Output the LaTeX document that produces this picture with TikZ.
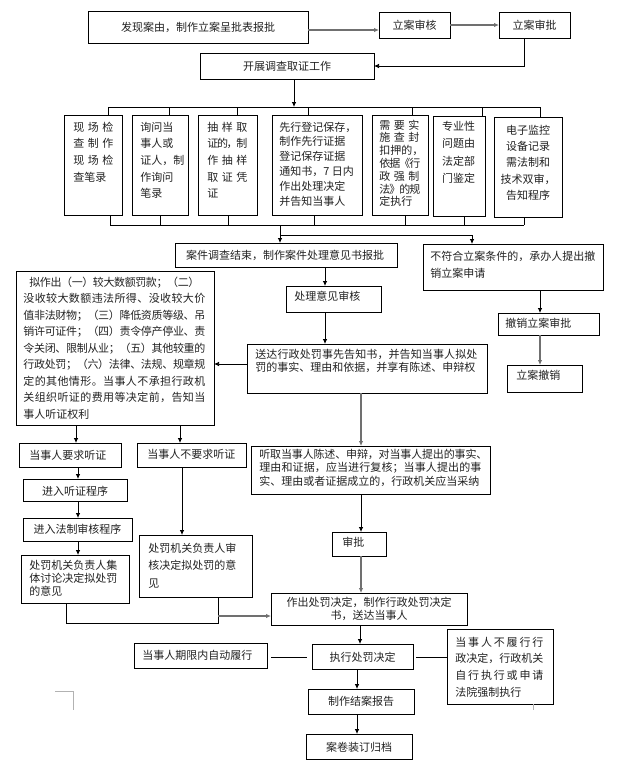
\documentclass[tikz,border=0pt]{standalone}
\usepackage{fontspec}
\setmainfont{Noto Sans CJK SC}
\usetikzlibrary{arrows.meta}
\definecolor{ink}{HTML}{222222}
\definecolor{garrow}{HTML}{707070}
\def\spgob#1{}
\def\spx#1#2{#1\ifx\relax#2\expandafter\spgob\else\hskip 0pt plus 1fil minus 2pt\relax\expandafter\spx\fi#2}
\newcommand\J[2]{\makebox[#1][s]{\spx#2\relax}}
\newcommand\ls[1]{\fontsize{11}{#1}\selectfont}
\newcommand\bx[5]{\node[box, minimum width={(#4-#2)*1pt}, minimum height={(#5-#3)*1pt}] (#1) at (#2,#3) {};}
\begin{document}
\begin{tikzpicture}[x=1pt, y=-1pt, line width=0.75pt,
  box/.style={draw, inner sep=0pt, outer sep=0pt, anchor=north west},
  txt/.style={inner sep=0pt, text=ink, font=\ls{13}},
  arr/.style={-{Latex[length=5pt,width=4.5pt]}},
  garr/.style={arr, draw=garrow, line width=1.2pt}]
\useasboundingbox (0,0) rectangle (616,774);
\fill[white] (0,0) rectangle (616,774);
% helper coordinates
\foreach \v in {524,294,108,169,237,308,412,482,540,110,160,228,314,405,464,280,472,325,76,180,78,182,361,66,218,360,357}
  \coordinate (x\v) at (\v,0);
\foreach \v in {30,235,364,616,623,657}
  \coordinate (y\v) at (0,\v);
\coordinate (bus1) at (0,107);
\coordinate (bus2) at (0,225);

% ---------- top ----------
\bx{fx}{88}{11}{308}{43}
\node[txt, anchor=base] (tfx) at (198,31) {发现案由，制作立案呈批表报批};
\bx{lash}{379}{12}{450}{38}
\node[txt, anchor=base] (tlash) at (414.5,29) {立案审核};
\bx{lasp}{499}{12}{570}{38}
\node[txt, anchor=base] (tlasp) at (534.5,29) {立案审批};
\bx{kz}{200}{53}{374}{79}
\node[txt, anchor=base] (tkz) at (287,70) {开展调查取证工作};

% ---------- seven boxes ----------
\bx{b1}{64}{115}{122}{215}
\node[txt, anchor=base west] (tb1) at (73,131) {\parbox[t]{48pt}{\ls{16.7}\J{40pt}{现场检}\\\J{40pt}{查制作}\\\J{40pt}{现场检}\\查笔录}};
\bx{b2}{132}{115}{188}{215}
\node[txt, anchor=base west] (tb2) at (140,131) {\parbox[t]{48pt}{\ls{16.7}询问当\\事人或\\证人，制\\作询问\\笔录}};
\bx{b3}{198}{115}{257}{215}
\node[txt, anchor=base west] (tb3) at (207,131) {\parbox[t]{48pt}{\ls{16.7}\J{40pt}{抽样取}\\\J{40pt}{证的，制}\\\J{40pt}{作抽样}\\\J{40pt}{取证凭}\\证}};
\bx{b4}{272}{115}{362}{215}
\node[txt, anchor=base west] (tb4) at (279,131) {\parbox[t]{82pt}{\ls{14.9}先行登记保存，\\制作先行证据\\登记保存证据\\通知书，7 日内\\作出处理决定\\并告知当事人}};
\bx{b5}{372}{115}{428}{215}
\node[txt, anchor=base west] (tb5) at (379,129) {\parbox[t]{48pt}{\ls{12.8}\J{40pt}{需要实}\\\J{40pt}{施查封}\\扣押的，\\\J{41pt}{依据《行}\\\J{40pt}{政强制}\\\J{41pt}{法》的规}\\定执行}};
\bx{b6}{433}{116}{485}{216}
\node[txt, anchor=base west] (tb6) at (441.7,130.7) {\parbox[t]{44pt}{\ls{17.2}专业性\\问题由\\法定部\\门鉴定}};
\bx{b7}{494}{117}{562}{217}
\node[txt, anchor=base] (tb7) at (528,134) {\parbox[t]{66pt}{\centering\ls{16.4}电子监控\\设备记录\\需法制和\\技术双审，\\告知程序}};

% ---------- second level ----------
\bx{aj}{175}{243}{397}{267}
\node[txt, anchor=base] (taj) at (285,259) {案件调查结束，制作案件处理意见书报批};
\bx{bf}{423}{244}{603}{290}
\node[txt, anchor=base west] (tbf) at (430,260) {\parbox[t]{170pt}{\ls{17}\J{165pt}{不符合立案条件的，承办人提出撤}\\销立案申请}};
\bx{cl}{286}{286}{381}{312}
\node[txt, anchor=base west] (tcl) at (294,300) {处理意见审核};
\bx{cx}{498}{313}{599}{335}
\node[txt, anchor=base west] (tcx) at (505,327) {撤销立案审批};
\bx{lc}{507}{365}{582}{392}
\node[txt, anchor=base west] (tlc) at (516,379) {立案撤销};
\bx{sd}{247}{344}{487}{393}
\node[txt, anchor=base west] (tsd) at (255,358) {\parbox[t]{228pt}{\ls{13}\J{222pt}{送达行政处罚事先告知书，并告知当事人拟处}\\罚的事实、理由和依据，并享有陈述、申辩权}};
\bx{nz}{16}{271}{214}{425}
\node[txt, anchor=base west] (tnz) at (23,286) {\parbox[t]{188pt}{\ls{16.5}\hspace*{6pt}\J{170pt}{拟作出（一）较大数额罚款；（二）}\\
\J{182pt}{没收较大数额违法所得、没收较大价}\\
\J{182pt}{值非法财物；（三）降低资质等级、吊}\\
\J{182pt}{销许可证件；（四）责令停产停业、责}\\
\J{182pt}{令关闭、限制从业；（五）其他较重的}\\
\J{182pt}{行政处罚；（六）法律、法规、规章规}\\
\J{182pt}{定的其他情形。当事人不承担行政机}\\
\J{182pt}{关组织听证的费用等决定前，告知当}\\
事人听证权利}};

% ---------- left branch ----------
\bx{yq}{19}{443}{121}{467}
\node[txt, anchor=base west] (tyq) at (29,459) {当事人要求听证};
\bx{by}{137}{443}{246}{467}
\node[txt, anchor=base west] (tby) at (147,458) {当事人不要求听证};
\bx{jt}{23}{479}{127}{501}
\node[txt, anchor=base] (tjt) at (75,495) {进入听证程序};
\bx{jf}{23}{518}{132}{541}
\node[txt, anchor=base] (tjf) at (77.5,533) {进入法制审核程序};
\bx{jj}{21}{555}{129}{603}
\node[txt, anchor=base west] (tjj) at (29,569) {\parbox[t]{96pt}{\ls{13}处罚机关负责人集\\体讨论决定拟处罚\\的意见}};
\bx{sh}{139}{535}{252}{597}
\node[txt, anchor=base west] (tsh) at (148,552) {\parbox[t]{98pt}{\ls{17.5}处罚机关负责人审\\核决定拟处罚的意\\见}};

% ---------- middle ----------
\bx{tq}{251}{446}{490}{494}
\node[txt, anchor=base west] (ttq) at (259,458) {\parbox[t]{230pt}{\ls{13.5}\J{228pt}{听取当事人陈述、申辩，对当事人提出的事实、}\\\J{222pt}{理由和证据，应当进行复核；当事人提出的事}\\实、理由或者证据成立的，行政机关应当采纳}};
\bx{sp}{332}{532}{386}{556}
\node[txt, anchor=base west] (tsp) at (342,546) {审批};
\bx{zc}{271}{593}{467}{625}
\node[txt, anchor=base] (tzc) at (369,606) {\parbox[t]{190pt}{\centering\ls{13}作出处罚决定，制作行政处罚决定\\书，送达当事人}};
\bx{zx}{312}{644}{413}{669}
\node[txt, anchor=base] (tzx) at (362.5,661) {执行处罚决定};
\bx{qx}{134}{643}{267}{668}
\node[txt, anchor=base west] (tqx) at (142,659) {当事人期限内自动履行};
\bx{bl}{447}{629}{553}{704}
\node[txt, anchor=base west] (tbl) at (455,646) {\parbox[t]{95pt}{\ls{16.7}\J{88pt}{当事人不履行行}\\\J{88pt}{政决定，行政机关}\\\J{88pt}{自行执行或申请}\\法院强制执行}};
\bx{ja}{308}{689}{414}{714}
\node[txt, anchor=base] (tja) at (361,705) {制作结案报告};
\bx{ad}{306}{734}{412}{759}
\node[txt, anchor=base] (tad) at (359,751) {案卷装订归档};

% ---------- connectors ----------
\draw[garr] (fx.east |- y30) -- (lash.west |- y30);
\draw[garr] (lash.east) -- (lasp.west);
\draw[arr] (x524 |- lasp.south) |- (kz.east);
\draw[arr] (x294 |- kz.south) -- (x294 |- bus1);
\draw (x108 |- bus1) -- (x540 |- bus1);
\foreach \v/\b in {108/b1,169/b2,237/b3,308/b4,412/b5,482/b6,540/b7}
  \draw (x\v |- bus1) -- (x\v |- \b.north);
\draw (x110 |- bus2) -- (x524 |- bus2);
\foreach \v/\b in {110/b1,160/b2,228/b3,314/b4,405/b5,464/b6,524/b7}
  \draw (x\v |- \b.south) -- (x\v |- bus2);
\draw[arr] (x280 |- bus2) -- (x280 |- aj.north);
\draw[arr] (x280 |- y235) -| (x472 |- bf.north);
\draw[arr] (x325 |- aj.south) -- (x325 |- cl.north);
\draw[arr] (x540 |- bf.south) -- (x540 |- cx.north);
\draw[garr] (x540 |- cx.south) -- (x540 |- lc.north);
\draw[arr] (x325 |- cl.south) -- (x325 |- sd.north);
\draw[arr] (sd.west |- y364) -- (nz.east |- y364);
\draw[arr] (x76 |- nz.south) -- (x76 |- yq.north);
\draw[arr] (x180 |- nz.south) -- (x180 |- by.north);
\draw[arr] (x78 |- yq.south) -- (x78 |- jt.north);
\draw[arr] (x78 |- jt.south) -- (x78 |- jf.north);
\draw[arr] (x78 |- jf.south) -- (x78 |- jj.north);
\draw[arr] (x182 |- by.south) -- (x182 |- sh.north);
\draw[garr] (x361 |- sd.south) -- (x361 |- tq.north);
\draw[arr] (x361 |- tq.south) -- (x361 |- sp.north);
\draw[garr] (x361 |- sp.south) -- (x361 |- zc.north);
\draw (x66 |- jj.south) |- (x218 |- y623) -- (x218 |- sh.south);
\draw[garr] (x218 |- y616) -- (zc.west |- y616);
\draw[arr] (x360 |- zc.south) -- (x360 |- zx.north);
\draw[shorten <=4pt, shorten >=5pt] (qx.east |- y657) -- (zx.west |- y657);
\draw[shorten <=3pt] (zx.east |- y657) -- (bl.west |- y657);
\draw[arr] (x357 |- zx.south) -- (x357 |- ja.north);
\draw[arr] (x357 |- ja.south) -- (x357 |- ad.north);

% crop marks
\draw[black!30, line width=0.5pt] (55,691) -- (73,691) -- (73,710);
\draw[black!30, line width=0.5pt] (533,704) -- (533,710);
\end{tikzpicture}
\end{document}
